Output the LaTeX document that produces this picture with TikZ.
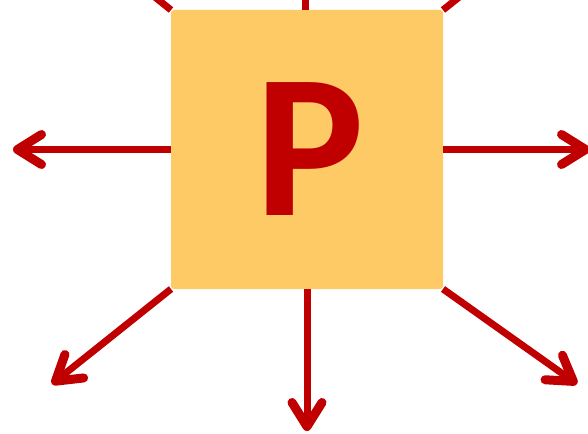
\documentclass[tikz,border=0pt]{standalone}
\usepackage{fontspec}
\setmainfont{Carlito}
\usepackage{xcolor}
\usetikzlibrary{arrows.meta}
\definecolor{cBox}{HTML}{FECA66}
\definecolor{cRed}{HTML}{C00000}
\tikzset{
  pbox/.style={fill=cBox, rounded corners=3pt, minimum width=272pt, minimum height=279pt,
               inner sep=0pt, outer sep=0pt, text=cRed,
               font=\fontsize{205}{205}\selectfont\bfseries},
  ray/.style={draw=cRed, line width=7pt,
              -{Straight Barb[length=24pt, width=30pt, line width=9pt 0, round]}},
}
\begin{document}
\begin{tikzpicture}[x=1pt, y=-1pt]
  \useasboundingbox (0,0) rectangle (588,433);
  \clip (0,0) rectangle (588,433);
  % the square with the letter
  \node[pbox] (P) at (307,149.5) {\hspace{6pt}P};
  % free ends of the rays
  \coordinate (tW)  at (13,149.5);
  \coordinate (tE)  at (590,149.5);
  \coordinate (tS)  at (307,431);
  \coordinate (tSW) at (52,384);
  \coordinate (tSE) at (577,384);
  \coordinate (tN)  at (305,-133);
  \coordinate (tNW) at (51,-87);
  \coordinate (tNE) at (564,-87);
  % rays out of the square
  \draw[ray] (P.west) -- (tW);
  \draw[ray] (P.east) -- (tE);
  \draw[ray] (P.south) -- (tS);
  \draw[ray] (P.south west) -- (tSW);
  \draw[ray] (P.south east) -- (tSE);
  \draw[ray] ([xshift=-2pt]P.north) -- (tN);
  \draw[ray] (P.north west) -- (tNW);
  \draw[ray] (P.north east) -- (tNE);
\end{tikzpicture}
\end{document}
